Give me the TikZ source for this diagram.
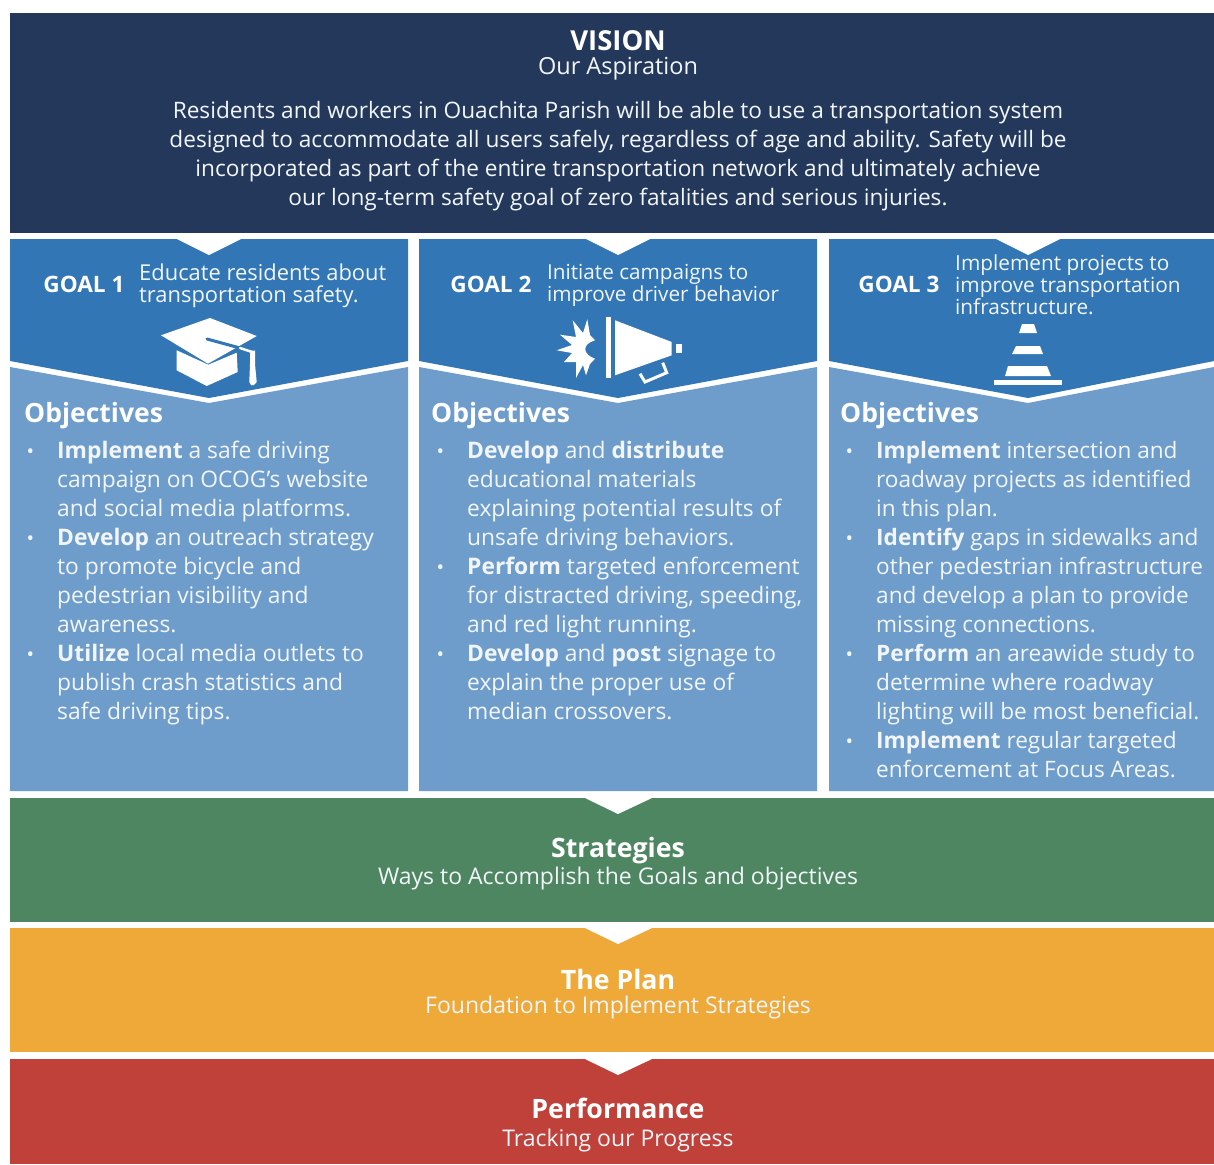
\documentclass[tikz,border=0pt]{standalone}
\usepackage{fontspec}
\setmainfont{Open Sans}
\definecolor{navy}{HTML}{24385B}
\definecolor{goalblue}{HTML}{3276B6}
\definecolor{objblue}{HTML}{6F9DCB}
\definecolor{stratgreen}{HTML}{4E8661}
\definecolor{planorange}{HTML}{EFA938}
\definecolor{perfred}{HTML}{C0403A}
\definecolor{softwhite}{HTML}{F2F6FA}
\newcommand{\fs}[2]{\fontsize{#1pt}{#2pt}\selectfont}
\newcommand{\bul}{\leavevmode\llap{\fs{20}{20}•\hspace{23pt}}}
\tikzset{
  x=1pt,y=-1pt,
  band/.style={fill=#1,draw=none},
  notch/.style={fill=white,draw=none},
  icon/.style={fill=white,draw=none},
  title/.style={text=white,font=\bfseries\fs{26.7}{29},inner sep=0,anchor=center},
  sub/.style={text=softwhite,font=\fs{23}{26},inner sep=0,anchor=center},
  goaltag/.style={text=white,font=\bfseries\fs{22.6}{26},inner sep=0,anchor=center},
  goaltext/.style={text=softwhite,font=\fs{#1}{22},inner sep=0,anchor=west,align=left},
  objhead/.style={text=white,font=\bfseries\fs{26.5}{29},inner sep=0,anchor=west},
  objlist/.style={text=softwhite,font=\fs{#1}{29},inner sep=0,anchor=north west,align=left},
}
\begin{document}
\begin{tikzpicture}
\useasboundingbox (0,0) rectangle (1214,1164);
\fill[white] (0,0) rectangle (1214,1164);
% vision
\fill[band=navy] (10,13) rectangle (1214,233);
\node[title,font=\bfseries\fs{27.5}{29}] (vt) at (618,41) {VISION};
\node[sub,font=\fs{23.5}{26}] (vs) at (618,69) {Our Aspiration};
\node[text=softwhite,font=\fs{22.65}{29},inner sep=0,align=center,anchor=center] (vb) at (618,156.5) {Residents and workers in Ouachita Parish will be able to use a transportation system\\designed to accommodate all users safely, regardless of age and ability. Safety will be\\incorporated as part of the entire transportation network and ultimately achieve\\our long-term safety goal of zero fatalities and serious injuries.};
% panels
\foreach \l/\r/\m in {10/408/209,419/817/618,829/1214/1028}{
  \fill[band=goalblue] (\l,239) -- (\l,361) -- (\m,398) -- (\r,361) -- (\r,239) -- cycle;
  \fill[band=objblue] (\l,367) -- (\m,403) -- (\r,367) -- (\r,791) -- (\l,791) -- cycle;
  \fill[notch] (\m-32,239) -- (\m+32,239) -- (\m,255) -- cycle;
}
% goal 1
\node[goaltag] (g1) at (84,284) {GOAL 1};
\node[goaltext=21.9] (g1t) at (139,285.5) {Educate residents about\\transportation safety.};
% cap icon
\fill[icon] (161,335.3) -- (210,318) -- (256.7,336) -- (208,363.7) -- cycle;
\fill[icon] (176.7,350.3) -- (208.3,364.7) -- (236.7,352.7) -- (237.7,372) -- (206.7,386) -- (176.7,370.3) -- cycle;
\draw[goalblue,line width=3pt,line cap=round] (207,339) -- (240,348);
\draw[white,line width=2.5pt,line cap=round] (240,348) -- (252,352);
\fill[icon] (250,350.5) -- (255,350.5) -- (255,364) -- (256.7,382) -- (254,385) -- (251,385) -- (249.3,382) -- (250,364) -- cycle;
% goal 2
\node[goaltag] (g2) at (491,284) {GOAL 2};
\node[goaltext=20.7] (g2t) at (547,285.5) {Initiate campaigns to\\improve driver behavior};
% megaphone
\fill[icon] (572.7,320.3) -- (583,333) -- (587.3,319.3) -- (590,335) -- (595,340.3)
  .. controls (582,344) and (582,354) .. (595,358.7)
  -- (590,364) -- (586,375.3) -- (583,365) -- (576,378) -- (576,362) -- (564,362)
  -- (572,353) -- (556.7,350.3) -- (572,345) -- (560,334.7) -- (576,337) -- cycle;
\fill[icon] (605.7,317) rectangle (610.7,378);
\fill[icon] (615,320.3) -- (671.7,342) -- (671.7,355.3) -- (615,375.3) -- cycle;
\fill[icon] (676,343.7) rectangle (681.7,352.7);
\draw[white,line width=3pt] (640,373.7) -- (645,382) -- (666.7,372.7) -- (662.7,362.7);
% goal 3
\node[goaltag] (g3) at (899,284) {GOAL 3};
\node[goaltext=20.8] (g3t) at (955,285) {Implement projects to\\improve transportation\\infrastructure.};
% cone
\fill[icon] (1019,333) -- (1037,333) -- (1034,324) -- (1022,324) -- cycle;
\fill[icon] (1012,354) -- (1043,354) -- (1040,346) -- (1016,346) -- cycle;
\fill[icon] (1005,376) -- (1051,376) -- (1047,366) -- (1008,366) -- cycle;
\fill[icon] (994,380) rectangle (1062,385);
% objectives
\node[objhead] (o1) at (24,415.5) {Objectives};
\node[objhead] (o2) at (431,415.5) {Objectives};
\node[objhead] (o3) at (840,415.5) {Objectives};
\node[objlist=22.8] (l1) at (57,441) {\bul\textbf{Implement} a safe driving\\campaign on OCOG’s website\\and social media platforms.\\\bul\textbf{Develop} an outreach strategy\\to promote bicycle and\\pedestrian visibility and\\awareness.\\\bul\textbf{Utilize} local media outlets to\\publish crash statistics and\\safe driving tips.};
\node[objlist=22.8] (l2) at (467,441) {\bul\textbf{Develop} and \textbf{distribute}\\educational materials\\explaining potential results of\\unsafe driving behaviors.\\\bul\textbf{Perform} targeted enforcement\\for distracted driving, speeding,\\and red light running.\\\bul\textbf{Develop} and \textbf{post} signage to\\explain the proper use of\\median crossovers.};
\node[objlist=22.6] (l3) at (876,441) {\bul\textbf{Implement} intersection and\\roadway projects as identified\\in this plan.\\\bul\textbf{Identify} gaps in sidewalks and\\other pedestrian infrastructure\\and develop a plan to provide\\missing connections.\\\bul\textbf{Perform} an areawide study to\\determine where roadway\\lighting will be most beneficial.\\\bul\textbf{Implement} regular targeted\\enforcement at Focus Areas.};
% lower bands
\fill[band=stratgreen] (10,798) rectangle (1214,922);
\fill[notch] (585,798) -- (652,798) -- (618,814) -- cycle;
\node[title] (st) at (618,851) {Strategies};
\node[sub] (ss) at (618,879) {Ways to Accomplish the Goals and objectives};
\fill[band=planorange] (10,928) rectangle (1214,1052);
\fill[notch] (585,928) -- (652,928) -- (618,944) -- cycle;
\node[title] (pt) at (618,979) {The Plan};
\node[sub] (ps) at (618,1008) {Foundation to Implement Strategies};
\fill[band=perfred] (10,1059) rectangle (1214,1164);
\fill[notch] (585,1059) -- (652,1059) -- (618,1075) -- cycle;
\node[title] (rt) at (618,1108) {Performance};
\node[sub] (rs) at (618,1141) {Tracking our Progress};
\end{tikzpicture}
\end{document}
